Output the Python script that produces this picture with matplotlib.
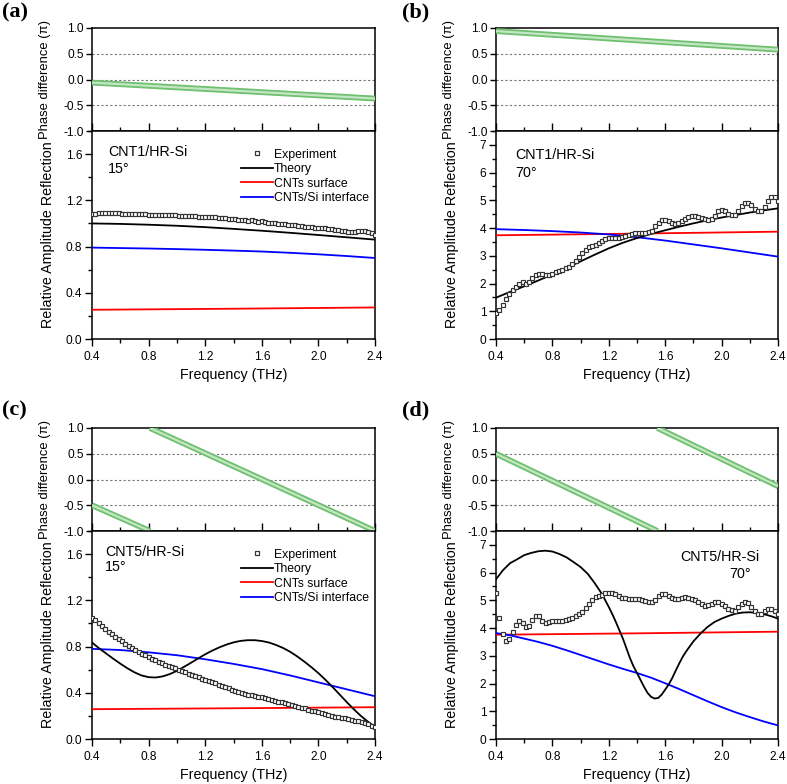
import numpy as np
import matplotlib
matplotlib.use('Agg')
import matplotlib.pyplot as plt
from matplotlib.ticker import MultipleLocator, FormatStrFormatter

plt.rcParams['font.family'] = ['Liberation Sans', 'DejaVu Sans']

# ---------------- data ----------------
freq_range = (0.4, 2.4)

# phase difference (units of pi), straight segments (wrapped)
phase_a = [([0.4, 2.4], [-0.06, -0.37])]
phase_b = [([0.4, 2.4], [0.94, 0.58])]
phase_c = [([0.4, 0.81], [-0.5, -1.0]), ([0.81, 2.4], [1.0, -1.0])]
phase_d = [([0.4, 1.545], [0.5, -1.0]), ([1.545, 2.4], [1.0, -0.13])]

# experiment (86 equally spaced samples 0.4..2.4 THz)
exp_a = [1.080, 1.085, 1.088, 1.090, 1.090, 1.091, 1.090, 1.091, 1.089,
         1.085, 1.082, 1.083, 1.084, 1.081, 1.078, 1.079, 1.080, 1.077,
         1.074, 1.072, 1.075, 1.073, 1.070, 1.071, 1.072, 1.069, 1.067,
         1.068, 1.066, 1.063, 1.064, 1.062, 1.058, 1.060, 1.058, 1.053,
         1.055, 1.052, 1.047, 1.049, 1.045, 1.040, 1.042, 1.038, 1.032,
         1.034, 1.030, 1.024, 1.026, 1.020, 1.015, 1.017, 1.012, 1.005,
         1.003, 1.000, 0.997, 0.995, 0.992, 0.988, 0.986, 0.983, 0.978,
         0.975, 0.972, 0.968, 0.966, 0.963, 0.962, 0.963, 0.960, 0.955,
         0.950, 0.946, 0.940, 0.936, 0.933, 0.930, 0.928, 0.930, 0.934,
         0.936, 0.933, 0.925, 0.915, 0.900]
exp_b = [0.92, 1.04, 1.22, 1.46, 1.64, 1.77, 1.89, 2.00, 2.04, 2.00,
         2.07, 2.19, 2.29, 2.35, 2.33, 2.29, 2.31, 2.36, 2.41, 2.45,
         2.49, 2.55, 2.61, 2.71, 2.82, 2.94, 3.10, 3.22, 3.30, 3.36,
         3.40, 3.46, 3.54, 3.62, 3.64, 3.64, 3.63, 3.64, 3.66, 3.70,
         3.74, 3.77, 3.81, 3.82, 3.82, 3.83, 3.85, 3.91, 4.06, 4.18,
         4.28, 4.30, 4.24, 4.17, 4.15, 4.18, 4.27, 4.34, 4.40, 4.43,
         4.43, 4.40, 4.37, 4.33, 4.30, 4.34, 4.45, 4.61, 4.64, 4.61,
         4.51, 4.46, 4.48, 4.61, 4.79, 4.91, 4.91, 4.82, 4.70, 4.63,
         4.63, 4.75, 4.97, 5.13, 5.11, 4.97]
exp_c = [1.050, 1.030, 1.005, 0.980, 0.952, 0.930, 0.908, 0.887, 0.866, 0.846,
         0.825, 0.806, 0.787, 0.770, 0.753, 0.738, 0.724, 0.710, 0.696, 0.681,
         0.667, 0.655, 0.643, 0.633, 0.623, 0.612, 0.600, 0.589, 0.577, 0.564,
         0.551, 0.542, 0.533, 0.523, 0.513, 0.503, 0.493, 0.482, 0.470, 0.460,
         0.449, 0.438, 0.427, 0.418, 0.410, 0.400, 0.391, 0.385, 0.378, 0.372,
         0.366, 0.360, 0.353, 0.346, 0.339, 0.331, 0.324, 0.316, 0.309, 0.302,
         0.295, 0.288, 0.281, 0.272, 0.264, 0.255, 0.246, 0.238, 0.230, 0.222,
         0.214, 0.207, 0.200, 0.194, 0.188, 0.184, 0.180, 0.174, 0.168, 0.160,
         0.152, 0.146, 0.140, 0.130, 0.114, 0.100]
exp_d = [5.27, 4.35, 3.77, 3.53, 3.60, 3.87, 4.10, 4.24, 4.17, 4.05,
         4.06, 4.28, 4.44, 4.42, 4.26, 4.20, 4.21, 4.24, 4.25, 4.26,
         4.27, 4.30, 4.33, 4.38, 4.44, 4.50, 4.58, 4.72, 4.87, 5.02,
         5.12, 5.16, 5.18, 5.25, 5.27, 5.26, 5.22, 5.16, 5.10, 5.07,
         5.05, 5.05, 5.05, 5.05, 5.02, 4.98, 4.95, 4.94, 5.02, 5.14,
         5.22, 5.22, 5.17, 5.09, 5.05, 5.06, 5.10, 5.11, 5.10, 5.06,
         5.02, 4.95, 4.85, 4.81, 4.82, 4.88, 4.93, 4.93, 4.87, 4.79,
         4.70, 4.64, 4.63, 4.75, 4.87, 4.95, 4.91, 4.77, 4.60, 4.49,
         4.50, 4.60, 4.70, 4.70, 4.60, 4.50]

# theory / surface / interface curves
f_02 = [0.4, 0.6, 0.8, 1.0, 1.2, 1.4, 1.6, 1.8, 2.0, 2.2, 2.4]
f_01 = [0.4, 0.5, 0.6, 0.7, 0.8, 0.9, 1.0, 1.1, 1.2, 1.3, 1.4,
        1.5, 1.6, 1.7, 1.8, 1.9, 2.0, 2.1, 2.2, 2.3, 2.4]
f_005 = [0.40, 0.45, 0.50, 0.55, 0.60, 0.65, 0.70, 0.75, 0.80, 0.85,
         0.90, 0.95, 1.00, 1.05, 1.10, 1.15, 1.20, 1.25, 1.30, 1.35,
         1.40, 1.45, 1.50, 1.55, 1.60, 1.65, 1.70, 1.75, 1.80, 1.85,
         1.90, 1.95, 2.00, 2.05, 2.10, 2.15, 2.20, 2.25, 2.30, 2.35, 2.40]
f_ends = [0.4, 1.4, 2.4]
f_theory_d = [0.40, 0.45, 0.50, 0.55, 0.60, 0.65, 0.70, 0.75, 0.80, 0.85,
              0.90, 0.95, 1.00, 1.05, 1.10, 1.15, 1.20, 1.225, 1.25, 1.275,
              1.30, 1.325, 1.35, 1.375, 1.40, 1.425, 1.45, 1.475, 1.50, 1.525,
              1.55, 1.575, 1.60, 1.625, 1.65, 1.675, 1.70, 1.725, 1.75, 1.80,
              1.85, 1.90, 1.95, 2.00, 2.05, 2.10, 2.15, 2.20, 2.25, 2.30,
              2.35, 2.40]

theory_a = [1.000, 0.996, 0.989, 0.980, 0.968, 0.953, 0.937, 0.919, 0.900, 0.880, 0.860]
surface_a = [0.253, 0.262, 0.273]
interface_a = [0.791, 0.787, 0.783, 0.778, 0.772, 0.765, 0.757, 0.746, 0.733, 0.718, 0.701]

theory_b = [1.49, 1.70, 1.90, 2.11, 2.33, 2.56, 2.80, 3.04, 3.27, 3.47, 3.64,
            3.79, 3.92, 4.05, 4.17, 4.28, 4.38, 4.47, 4.56, 4.64, 4.71]
surface_b = [3.74, 3.80, 3.87]
interface_b = [3.96, 3.93, 3.89, 3.84, 3.77, 3.67, 3.55, 3.41, 3.27, 3.12, 2.97]

theory_c = [0.835, 0.785, 0.740, 0.695, 0.652, 0.612, 0.577, 0.550, 0.535, 0.532,
            0.542, 0.562, 0.590, 0.624, 0.660, 0.697, 0.733, 0.765, 0.793, 0.817,
            0.836, 0.849, 0.855, 0.855, 0.848, 0.835, 0.814, 0.788, 0.755, 0.715,
            0.670, 0.622, 0.570, 0.512, 0.450, 0.385, 0.320, 0.258, 0.200, 0.150, 0.105]
surface_c = [0.258, 0.266, 0.275]
interface_c = [0.780, 0.770, 0.750, 0.725, 0.690, 0.650, 0.605, 0.550, 0.490, 0.430, 0.370]

theory_d = [5.76, 6.09, 6.34, 6.48, 6.63, 6.71, 6.77, 6.79, 6.76, 6.67,
            6.55, 6.38, 6.20, 5.96, 5.62, 5.24, 4.76, 4.50, 4.22, 3.92,
            3.62, 3.27, 2.92, 2.62, 2.38, 2.13, 1.88, 1.66, 1.52, 1.46,
            1.48, 1.60, 1.78, 1.97, 2.20, 2.47, 2.73, 2.97, 3.17, 3.52,
            3.80, 4.04, 4.22, 4.34, 4.44, 4.52, 4.56, 4.57, 4.55, 4.50,
            4.43, 4.34]
surface_d = [3.76, 3.81, 3.87]
interface_d = [3.82, 3.74, 3.62, 3.50, 3.36, 3.20, 3.03, 2.86, 2.69, 2.53, 2.38,
               2.21, 2.01, 1.80, 1.58, 1.36, 1.15, 0.96, 0.79, 0.63, 0.49]

legend_labels = ['Experiment', 'Theory', 'CNTs surface', 'CNTs/Si interface']

# ---------------- layout ----------------
W, H = 787, 784
fig = plt.figure(figsize=(W / 100, H / 100), dpi=100)


def fx(px):
    return px / W


def fy(py):
    return 1 - py / H


panels = [
    dict(tag='(a)', x0=92, x1=375, ytop=28, ymid=131, ybot=339, tagpos=(2, 12),
         phase=phase_a, exp=exp_a, th=(f_02, theory_a), sf=(f_ends, surface_a),
         it=(f_02, interface_a), ymax=1.8, major=0.4, minor=0.2, fmt='%.1f',
         texts=[('CNT1/HR-Si', 0.057, 0.90, 'left'), ('15°', 0.057, 0.815, 'left')],
         legend=True),
    dict(tag='(b)', x0=496, x1=778, ytop=28, ymid=131, ybot=339, tagpos=(402, 12),
         phase=phase_b, exp=exp_b, th=(f_01, theory_b), sf=(f_ends, surface_b),
         it=(f_02, interface_b), ymax=7.5, major=1, minor=0.5, fmt='%d',
         texts=[('CNT1/HR-Si', 0.067, 0.885, 'left'), ('70°', 0.067, 0.80, 'left')],
         legend=False),
    dict(tag='(c)', x0=92, x1=375, ytop=428, ymid=531, ybot=739, tagpos=(2, 410),
         phase=phase_c, exp=exp_c, th=(f_005, theory_c), sf=(f_ends, surface_c),
         it=(f_02, interface_c), ymax=1.8, major=0.4, minor=0.2, fmt='%.1f',
         texts=[('CNT5/HR-Si', 0.046, 0.90, 'left'), ('15°', 0.046, 0.825, 'left')],
         legend=True),
    dict(tag='(d)', x0=496, x1=778, ytop=428, ymid=531, ybot=739, tagpos=(402, 410),
         phase=phase_d, exp=exp_d, th=(f_theory_d, theory_d), sf=(f_ends, surface_d),
         it=(f_01, interface_d), ymax=7.5, major=1, minor=0.5, fmt='%d',
         texts=[('CNT5/HR-Si', 0.933, 0.875, 'right'), ('70°', 0.905, 0.795, 'right')],
         legend=False),
]

spine_lw = 1.1
for p in panels:
    left = fx(p['x0'])
    width = fx(p['x1']) - fx(p['x0'])
    ax_top = fig.add_axes([left, fy(p['ymid']), width, fy(p['ytop']) - fy(p['ymid'])])
    ax_bot = fig.add_axes([left, fy(p['ybot']), width, fy(p['ymid']) - fy(p['ybot'])])

    # ---- phase panel ----
    for yv in (0.5, 0.0, -0.5):
        ax_top.axhline(yv, color='#777777', lw=0.8, ls=(0, (2, 2)), zorder=1)
    for fs, ph in p['phase']:
        ax_top.plot(fs, ph, color='#6fc06f', lw=4.2, solid_capstyle='butt', zorder=3)
        ax_top.plot(fs, ph, color='#c4e6c4', lw=1.6, solid_capstyle='butt', zorder=4)
    ax_top.set_xlim(*freq_range)
    ax_top.set_ylim(-1.0, 1.0)
    ax_top.set_yticks([-1.0, -0.5, 0.0, 0.5, 1.0])
    ax_top.set_yticklabels(['-1.0', '-0.5', '0.0', '0.5', '1.0'])
    ax_top.xaxis.set_major_locator(MultipleLocator(0.4))
    ax_top.xaxis.set_minor_locator(MultipleLocator(0.2))
    ax_top.tick_params(axis='x', which='both', direction='in', bottom=True, top=False,
                       labelbottom=False)
    ax_top.tick_params(axis='x', which='major', length=6, width=1.0)
    ax_top.tick_params(axis='x', which='minor', length=3, width=1.0)
    ax_top.tick_params(axis='y', which='major', direction='out', length=4, width=1.0,
                       labelsize=8.6, pad=2)
    ax_top.set_ylabel('Phase difference (π)', fontsize=9.4)
    for s in ax_top.spines.values():
        s.set_linewidth(spine_lw)

    # ---- reflection panel ----
    n = len(p['exp'])
    fexp = np.linspace(freq_range[0], freq_range[1], n)
    h_exp, = ax_bot.plot(fexp, p['exp'], ls='none', marker='s', ms=3.4, mfc='white',
                         mec='#333333', mew=0.85, zorder=5)
    h_th, = ax_bot.plot(*p['th'], color='black', lw=1.3, zorder=4)
    h_sf, = ax_bot.plot(*p['sf'], color='#ff0000', lw=1.3, zorder=3)
    h_it, = ax_bot.plot(*p['it'], color='#0000ff', lw=1.3, zorder=3)
    ax_bot.set_xlim(*freq_range)
    ax_bot.set_ylim(0, p['ymax'])
    ax_bot.xaxis.set_major_locator(MultipleLocator(0.4))
    ax_bot.xaxis.set_minor_locator(MultipleLocator(0.2))
    ax_bot.yaxis.set_major_locator(MultipleLocator(p['major']))
    ax_bot.yaxis.set_minor_locator(MultipleLocator(p['minor']))
    ax_bot.yaxis.set_major_formatter(FormatStrFormatter(p['fmt']))
    ax_bot.xaxis.set_major_formatter(FormatStrFormatter('%.1f'))
    ax_bot.tick_params(axis='both', which='both', direction='out', top=False, right=False)
    ax_bot.tick_params(axis='both', which='major', length=5, width=1.0, labelsize=8.6, pad=2)
    ax_bot.tick_params(axis='both', which='minor', length=3, width=1.0)
    ax_bot.tick_params(axis='x', which='major', pad=3.5)
    ax_bot.set_xlabel('Frequency (THz)', fontsize=10.3, labelpad=4)
    ax_bot.set_ylabel('Relative Amplitude Reflection', fontsize=10.3)
    for s in ax_bot.spines.values():
        s.set_linewidth(spine_lw)

    # y label positions (right edge of rotated text)
    ax_top.yaxis.set_label_coords(-0.145, 0.5)
    ax_bot.yaxis.set_label_coords(-0.13, 0.5)

    for txt, tx, ty, ha in p['texts']:
        ax_bot.text(tx, ty, txt, transform=ax_bot.transAxes, fontsize=10.3,
                    ha=ha, va='center')

    if p['legend']:
        ax_bot.legend([h_exp, h_th, h_sf, h_it], legend_labels, loc='upper right',
                      bbox_to_anchor=(1.005, 0.95), frameon=False, fontsize=8.8,
                      handlelength=2.6, handletextpad=0.12, labelspacing=0.2,
                      borderaxespad=0.2, numpoints=1)

    fig.text(fx(p['tagpos'][0]), fy(p['tagpos'][1]), p['tag'],
             family=['Liberation Serif', 'DejaVu Serif'], fontweight='bold',
             fontsize=16, ha='left', va='center')

fig.savefig('out.png', dpi=100)
